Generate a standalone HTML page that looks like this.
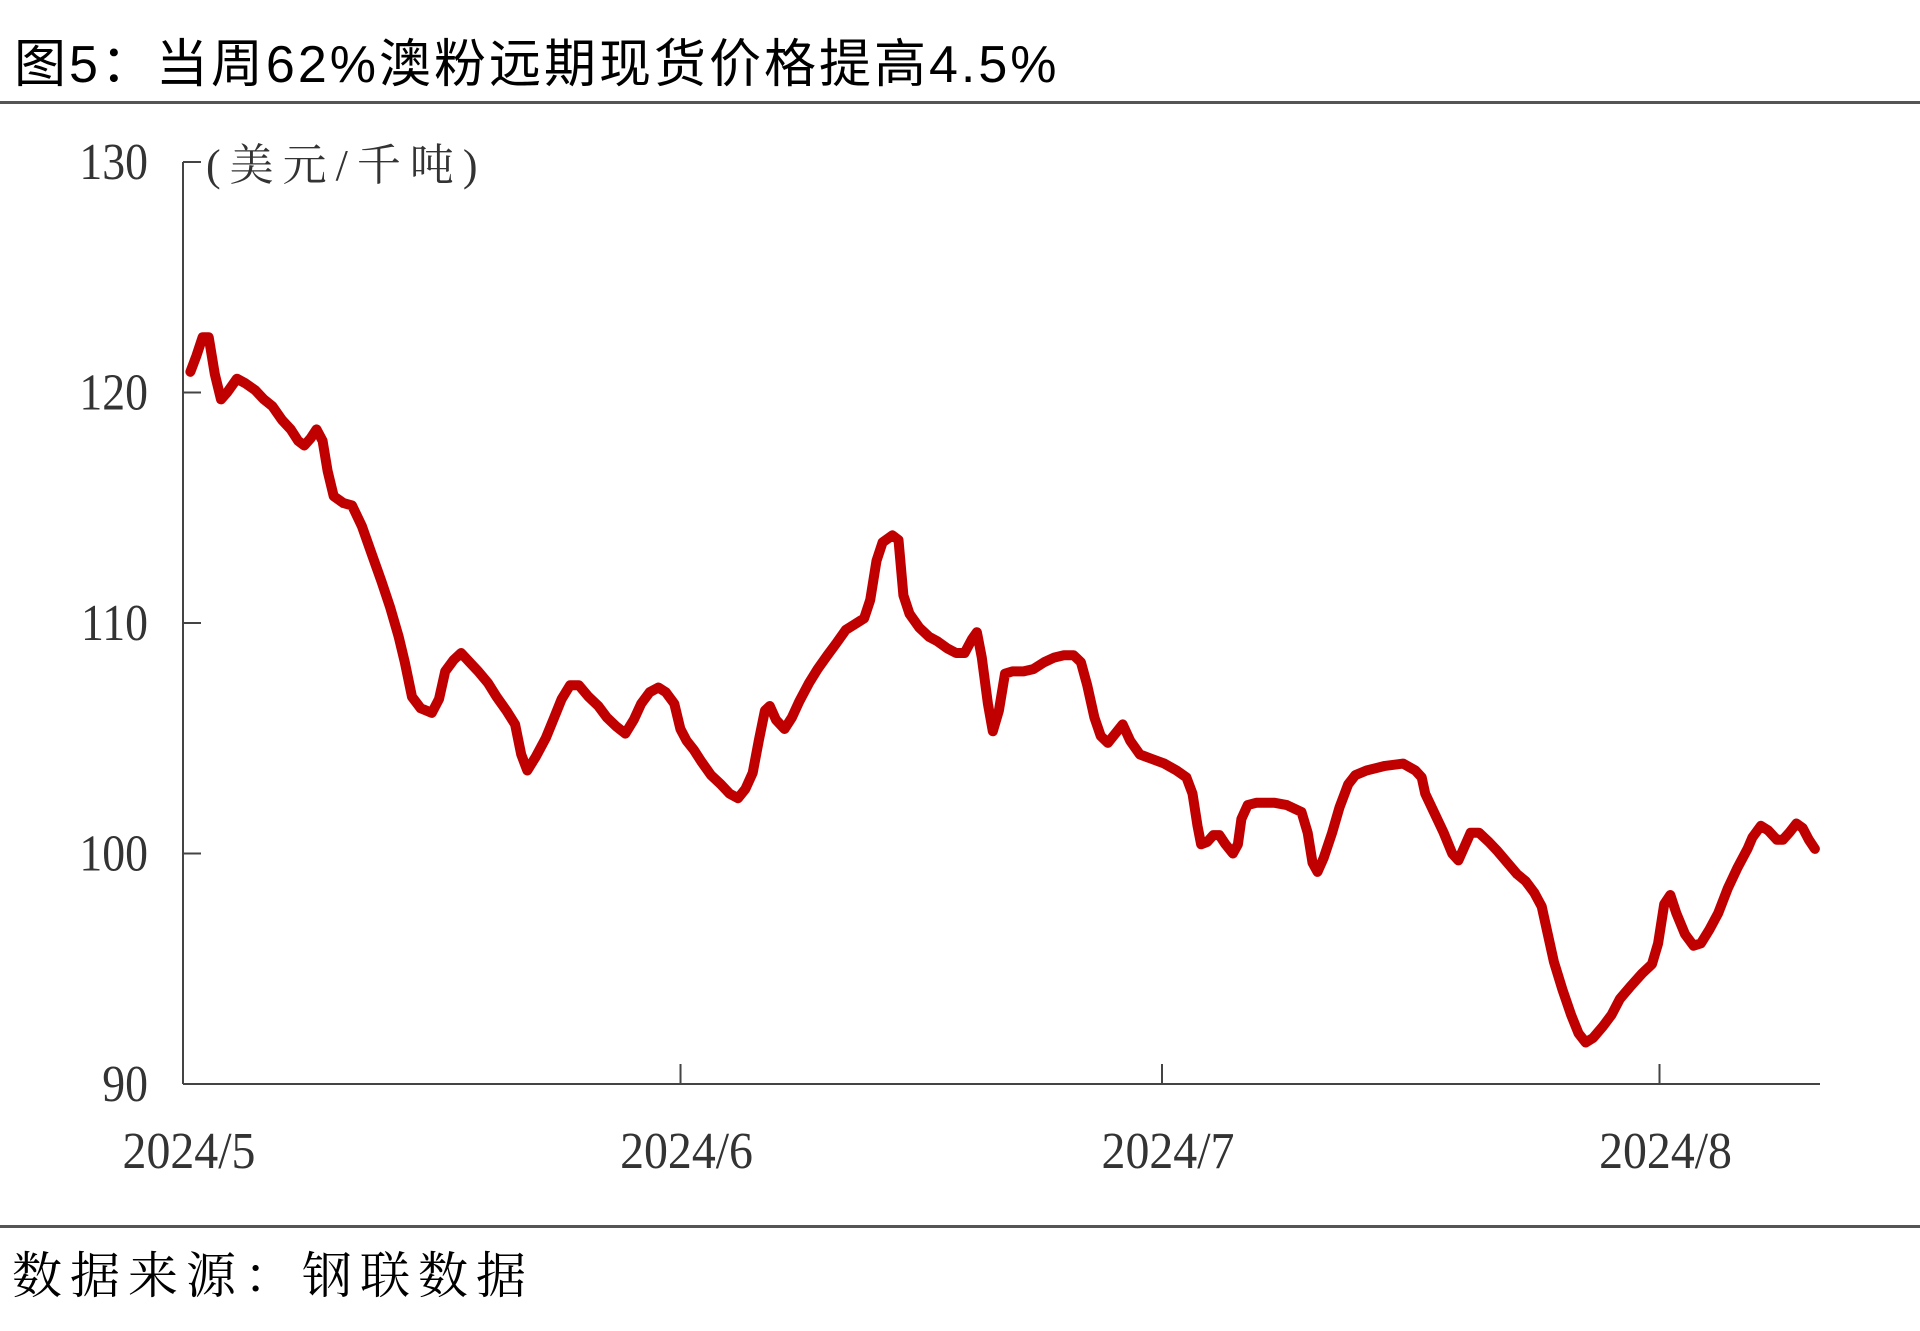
<!DOCTYPE html>
<html><head><meta charset="utf-8">
<style>
html,body{margin:0;padding:0;background:#fff;}
body{width:1920px;height:1331px;position:relative;overflow:hidden;}
.title{position:absolute;left:14px;top:22px;font-family:"Liberation Sans","Noto Sans CJK SC",sans-serif;font-size:52px;color:#000;letter-spacing:3px;white-space:nowrap;}
.rule{position:absolute;left:0;width:1920px;height:3px;background:#555;}
.footer{position:absolute;left:12px;top:1236px;font-family:"Liberation Serif","Noto Serif CJK SC",serif;font-size:50px;letter-spacing:8px;color:#000;white-space:nowrap;}
svg{position:absolute;left:0;top:0;}
</style></head>
<body>
<div class="title">图5：当周62%澳粉远期现货价格提高4.5%</div>
<div class="rule" style="top:101px"></div>
<div class="rule" style="top:1225px"></div>
<div class="footer">数据来源：钢联数据</div>
<svg id="chart" width="1920" height="1331"></svg>
<script>
const dayOffsets=[0.46,0.84,1.22,1.6,1.98,2.37,2.75,3.36,3.89,4.5,5.04,5.57,6.18,6.72,7.18,7.56,7.94,8.32,8.7,9.01,9.39,10.0,10.53,11.15,11.76,12.37,12.9,13.44,13.82,14.27,14.81,15.5,15.95,16.34,16.87,17.33,17.86,18.4,19.0,19.54,20.15,20.69,21.07,21.45,21.98,22.6,23.13,23.59,24.12,24.66,25.27,25.88,26.41,27.02,27.56,28.09,28.55,29.08,29.62,30.08,30.61,30.99,31.37,31.83,32.29,32.9,33.51,34.05,34.58,35.04,35.5,35.88,36.26,36.56,36.95,37.48,37.94,38.4,39.01,39.54,40.15,40.69,41.3,41.76,42.44,42.82,43.21,43.59,44.2,44.58,44.89,45.27,45.88,46.49,47.02,47.63,48.17,48.7,49.16,49.47,49.77,50.15,50.46,50.84,51.22,51.68,52.37,52.98,53.66,54.27,54.89,55.5,55.95,56.34,56.79,57.18,57.63,58.09,58.55,59.01,59.62,60.38,61.15,61.91,62.52,62.9,63.21,63.44,63.82,64.2,64.58,64.96,65.42,65.73,65.95,66.34,66.87,68.02,68.78,69.69,70.08,70.38,70.69,71.07,71.6,72.06,72.6,73.05,73.74,74.89,76.03,76.79,77.18,77.4,77.94,78.55,79.08,79.47,79.85,80.23,80.76,81.37,81.91,82.52,83.13,83.66,84.2,84.66,85.04,85.42,85.95,86.49,86.95,87.4,87.86,88.47,89.01,89.54,90.15,90.92,91.53,91.91,92.29,92.67,93.05,93.59,94.12,94.58,95.11,95.65,96.26,96.87,97.48,97.79,98.32,98.78,99.31,99.69,100.08,100.53,100.92,101.3,101.68];
const prices=[120.9,121.6,122.4,122.4,120.8,119.7,120.0,120.6,120.4,120.1,119.7,119.4,118.8,118.4,117.9,117.7,118.0,118.4,117.9,116.6,115.5,115.2,115.1,114.2,113.0,111.8,110.7,109.4,108.3,106.8,106.3,106.1,106.7,107.9,108.4,108.7,108.3,107.9,107.4,106.8,106.2,105.6,104.3,103.6,104.2,105.0,105.9,106.7,107.3,107.3,106.8,106.4,105.9,105.5,105.2,105.8,106.5,107.0,107.2,107.0,106.5,105.4,104.9,104.5,104.0,103.4,103.0,102.6,102.4,102.8,103.5,104.9,106.2,106.4,105.8,105.4,105.9,106.6,107.4,108.0,108.6,109.1,109.7,109.9,110.2,111.0,112.7,113.5,113.8,113.6,111.2,110.4,109.8,109.4,109.2,108.9,108.7,108.7,109.3,109.6,108.5,106.5,105.3,106.2,107.8,107.9,107.9,108.0,108.3,108.5,108.6,108.6,108.3,107.3,105.9,105.1,104.8,105.2,105.6,104.9,104.3,104.1,103.9,103.6,103.3,102.6,101.2,100.4,100.5,100.8,100.8,100.4,100.0,100.4,101.5,102.1,102.2,102.2,102.1,101.8,100.9,99.6,99.2,99.8,100.9,102.0,103.0,103.4,103.6,103.8,103.9,103.6,103.3,102.6,101.8,100.9,100.0,99.7,100.3,100.9,100.9,100.5,100.1,99.6,99.1,98.8,98.3,97.7,96.5,95.3,94.1,93.0,92.2,91.8,92.0,92.5,93.0,93.7,94.2,94.8,95.2,96.1,97.8,98.2,97.4,96.5,96.0,96.1,96.7,97.4,98.5,99.4,100.2,100.7,101.2,101.0,100.6,100.6,100.9,101.3,101.1,100.6,100.2];
const yTicks=[90,100,110,120,130];
const monthLabels=["2024/5","2024/6","2024/7","2024/8"];
const monthDays=[0,31,61,92];

const NS="http://www.w3.org/2000/svg";
const svg=document.getElementById('chart');
const X0=183,X1=1820,DMAX=102.0,Y0=1084,Y1=162,VMIN=90,VMAX=130;
const xs=d=>X0+(d/DMAX)*(X1-X0);
const ys=v=>Y0-(v-VMIN)/(VMAX-VMIN)*(Y0-Y1);
function mk(tag,attrs){const e=document.createElementNS(NS,tag);for(const k in attrs)e.setAttribute(k,attrs[k]);svg.appendChild(e);return e;}
const serif='"Liberation Serif","Noto Serif CJK SC",serif';

const ya=mk('line',{x1:X0,y1:Y1,x2:X0,y2:Y0,stroke:'#444','stroke-width':2});


const xa=mk('line',{x1:X0,y1:Y0,x2:X1,y2:Y0,stroke:'#444','stroke-width':2});



yTicks.forEach(v=>{
  const y=ys(v);
  const t=mk('line',{x1:X0,y1:y,x2:X0+18,y2:y,stroke:'#444','stroke-width':2});
  
  
  const l=mk('text',{x:148,y:y+17,'text-anchor':'end','font-family':serif,'font-size':52,fill:'#333',transform:`translate(148 0) scale(0.88 1) translate(-148 0)`});
  l.textContent=v;
  
  
});
monthDays.forEach((d,i)=>{
  const x=xs(d);
  if(i>0){
    const t=mk('line',{x1:x,y1:Y0,x2:x,y2:Y0-20,stroke:'#444','stroke-width':2});
    
    
  }
  const l=mk('text',{x:x+6,y:1168,'text-anchor':'middle','font-family':serif,'font-size':52,fill:'#333',transform:`translate(${x+6} 0) scale(0.92 1) translate(${-(x+6)} 0)`});
  l.textContent=monthLabels[i];
  
  
});
const u=mk('text',{x:206,y:180,'font-family':serif,'font-size':44,fill:'#333','letter-spacing':9});
u.textContent='(美元/千吨)';



const pts=dayOffsets.map((d,i)=>xs(d).toFixed(1)+','+ys(prices[i]).toFixed(1)).join(' ');
const line=mk('polyline',{points:pts,fill:'none',stroke:'#C00000','stroke-width':10,'stroke-linejoin':'round','stroke-linecap':'round'});


</script>
</body></html>
